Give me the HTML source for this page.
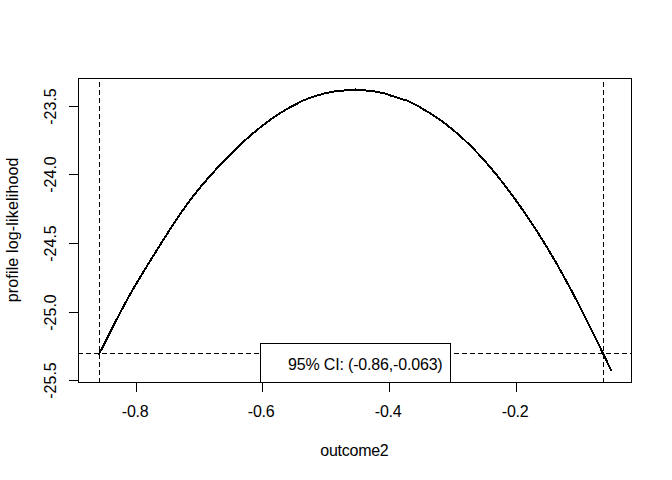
<!DOCTYPE html>
<html><head><meta charset="utf-8"><style>
html,body{margin:0;padding:0;background:#fff;width:672px;height:480px;overflow:hidden}
svg{display:block}
text{font-family:"Liberation Sans",sans-serif;font-size:16px;fill:#000}
</style></head><body>
<svg width="672" height="480" viewBox="0 0 672 480">
<rect x="0" y="0" width="672" height="480" fill="#fff"/>
<g stroke="#000" stroke-width="1" fill="none" shape-rendering="crispEdges">
<!-- vertical dashed lines -->
<path d="M99.5 383 L99.5 78" stroke-dasharray="5 3"/>
<path d="M603.5 383 L603.5 78" stroke-dasharray="5 3"/>
<!-- horizontal dashed -->
<path d="M78 353.5 L632 353.5" stroke-dasharray="5 3"/>
</g>
<path d="M98.90 354.10 L103.02 346.57 L107.15 338.31 L111.27 330.05 L115.40 321.89 L119.52 313.89 L123.65 306.11 L127.77 298.56 L131.90 291.26 L136.02 284.17 L140.14 277.27 L144.27 270.49 L148.39 263.78 L152.52 257.10 L156.64 250.46 L160.77 243.86 L164.89 237.34 L169.02 230.91 L173.14 224.59 L177.27 218.41 L181.39 212.38 L185.51 206.53 L189.64 200.88 L193.76 195.44 L197.89 190.24 L202.01 185.25 L206.14 180.43 L210.26 175.75 L214.39 171.16 L218.51 166.68 L222.63 162.30 L226.76 158.02 L230.88 153.84 L235.01 149.77 L239.13 145.81 L243.26 141.96 L247.38 138.23 L251.51 134.62 L255.63 131.14 L259.76 127.78 L263.88 124.55 L268.00 121.45 L272.13 118.49 L276.25 115.68 L280.38 113.00 L284.50 110.47 L288.63 108.09 L292.75 105.85 L296.88 103.75 L301.00 101.50 L303.00 100.50 L306.00 99.50 L308.00 98.50 L311.00 97.50 L314.00 96.50 L317.00 95.50 L321.00 94.50 L324.00 93.50 L329.00 92.50 L334.00 91.50 L344.00 90.50 L355.00 89.95 L366.00 90.50 L375.00 91.50 L380.00 92.50 L385.00 93.50 L388.00 94.50 L390.50 95.50 L394.00 96.50 L397.00 97.50 L400.00 98.50 L403.00 99.50 L407.00 100.50 L409.00 101.50 L411.00 102.50 L413.00 103.50 L415.00 104.50 L417.00 105.50 L419.00 106.50 L420.50 107.50 L422.00 108.50 L425.86 110.70 L429.71 113.03 L433.57 115.49 L437.43 118.09 L441.29 120.81 L445.14 123.67 L449.00 126.65 L452.86 129.78 L456.71 133.04 L460.57 136.44 L464.43 139.97 L468.29 143.65 L472.14 147.46 L476.00 151.41 L479.86 155.51 L483.71 159.75 L487.57 164.13 L491.43 168.66 L495.29 173.32 L499.14 178.12 L503.00 183.04 L506.86 188.08 L510.71 193.24 L514.57 198.50 L518.43 203.86 L522.29 209.34 L526.14 214.93 L530.00 220.64 L533.86 226.48 L537.71 232.44 L541.57 238.53 L545.43 244.77 L549.29 251.14 L553.14 257.66 L557.00 264.33 L560.86 271.15 L564.71 278.12 L568.57 285.22 L572.43 292.45 L576.29 299.80 L580.14 307.26 L584.00 314.83 L587.86 322.49 L591.71 330.24 L595.57 338.08 L599.43 345.98 L603.29 353.96 L607.14 361.99 L611.00 370.07" stroke="#000" stroke-width="2" fill="none" stroke-linejoin="round" stroke-linecap="round" shape-rendering="crispEdges"/>
<rect x="355" y="88" width="1" height="1" fill="#000" shape-rendering="crispEdges"/>
<g stroke="#000" stroke-width="1" fill="none" shape-rendering="crispEdges">
<rect x="78.5" y="78.5" width="553" height="304"/>
<!-- x ticks -->
<path d="M136.5 382 V392 M262.5 382 V392 M389.5 382 V392 M516.5 382 V392"/>
<!-- y ticks -->
<path d="M69 106.5 H78 M69 174.5 H78 M69 243.5 H78 M69 312.5 H78 M69 380.5 H78"/>
<!-- legend -->
<rect x="260.5" y="343.5" width="190" height="39" fill="#fff"/>
</g>
<text x="135.2" y="417" text-anchor="middle" textLength="26.7" lengthAdjust="spacing">-0.8</text>
<text x="261.2" y="417" text-anchor="middle" textLength="26.7" lengthAdjust="spacing">-0.6</text>
<text x="388.2" y="417" text-anchor="middle" textLength="26.7" lengthAdjust="spacing">-0.4</text>
<text x="515.2" y="417" text-anchor="middle" textLength="26.7" lengthAdjust="spacing">-0.2</text>
<g>
<text transform="translate(55.8 106.5) rotate(-90)" text-anchor="middle">-23.5</text>
<text transform="translate(55.8 174.5) rotate(-90)" text-anchor="middle">-24.0</text>
<text transform="translate(55.8 243.5) rotate(-90)" text-anchor="middle">-24.5</text>
<text transform="translate(55.8 312.5) rotate(-90)" text-anchor="middle">-25.0</text>
<text transform="translate(55.8 380.5) rotate(-90)" text-anchor="middle">-25.5</text>
</g>
<text x="354.5" y="455.5" text-anchor="middle" textLength="68.5" lengthAdjust="spacing">outcome2</text>
<text transform="translate(17.5 229.9) rotate(-90)" text-anchor="middle" textLength="144.8" lengthAdjust="spacing">profile log-likelihood</text>
<text x="288" y="370" textLength="154.7" lengthAdjust="spacing">95% CI: (-0.86,-0.063)</text>
</svg>
</body></html>
